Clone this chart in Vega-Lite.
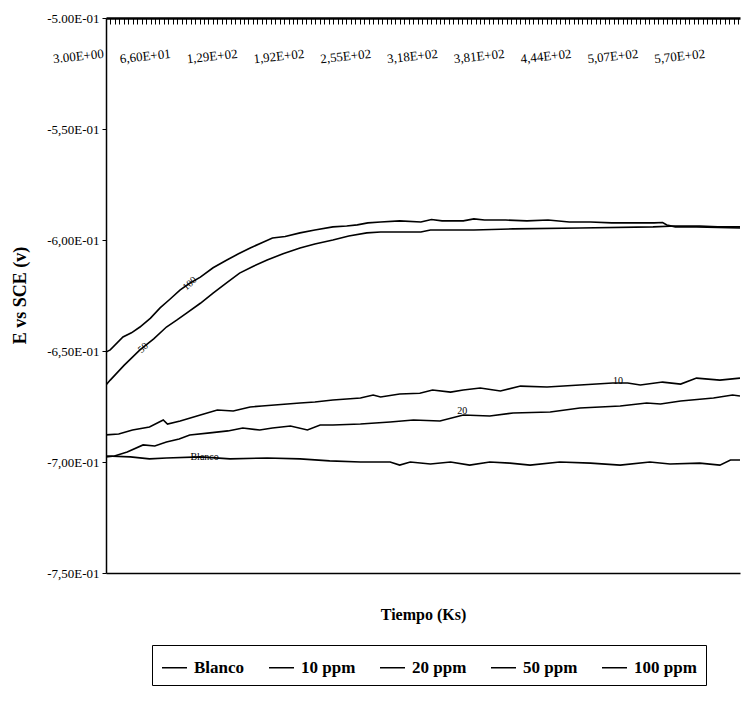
{
"$schema":"https://vega.github.io/schema/vega-lite/v6.json",
"width":634,"height":555,
"autosize":"none",
"padding":{"left":106,"top":18,"right":2,"bottom":130},
"config":{"font":"Liberation Serif","view":{"stroke":null},
"axis":{"grid":false,"domainColor":"black","tickColor":"black","labelColor":"black","titleColor":"black","labelFont":"Liberation Serif","titleFont":"Liberation Serif"},
"legend":{"labelFont":"Liberation Serif","labelColor":"black"}},
"resolve":{"scale":{"x":"independent"},"axis":{"x":"independent"}},
"layer":[
{"data":{"values":[
{"s":"100 ppm","t":3,"e":-0.6505},{"s":"100 ppm","t":7,"e":-0.6495},{"s":"100 ppm","t":19,"e":-0.6437},{"s":"100 ppm","t":27,"e":-0.6418},{"s":"100 ppm","t":35,"e":-0.6392},{"s":"100 ppm","t":45,"e":-0.6352},{"s":"100 ppm","t":54,"e":-0.6306},{"s":"100 ppm","t":63,"e":-0.6268},{"s":"100 ppm","t":73,"e":-0.6225},{"s":"100 ppm","t":82,"e":-0.6195},{"s":"100 ppm","t":92,"e":-0.6167},{"s":"100 ppm","t":104,"e":-0.6125},{"s":"100 ppm","t":117,"e":-0.609},{"s":"100 ppm","t":128,"e":-0.6062},{"s":"100 ppm","t":139,"e":-0.6036},{"s":"100 ppm","t":150,"e":-0.6012},{"s":"100 ppm","t":160,"e":-0.5991},{"s":"100 ppm","t":172,"e":-0.5984},{"s":"100 ppm","t":186,"e":-0.5968},{"s":"100 ppm","t":200,"e":-0.5955},{"s":"100 ppm","t":217,"e":-0.5941},{"s":"100 ppm","t":230,"e":-0.5937},{"s":"100 ppm","t":240,"e":-0.5932},{"s":"100 ppm","t":250,"e":-0.5923},{"s":"100 ppm","t":262,"e":-0.5919},{"s":"100 ppm","t":280,"e":-0.5914},{"s":"100 ppm","t":300,"e":-0.5919},{"s":"100 ppm","t":310,"e":-0.5908},{"s":"100 ppm","t":320,"e":-0.5914},{"s":"100 ppm","t":340,"e":-0.5914},{"s":"100 ppm","t":350,"e":-0.5905},{"s":"100 ppm","t":360,"e":-0.5910},{"s":"100 ppm","t":380,"e":-0.5910},{"s":"100 ppm","t":400,"e":-0.5914},{"s":"100 ppm","t":420,"e":-0.5910},{"s":"100 ppm","t":440,"e":-0.5919},{"s":"100 ppm","t":460,"e":-0.5919},{"s":"100 ppm","t":480,"e":-0.5923},{"s":"100 ppm","t":500,"e":-0.5923},{"s":"100 ppm","t":520,"e":-0.5923},{"s":"100 ppm","t":528,"e":-0.5921},{"s":"100 ppm","t":532,"e":-0.5932},{"s":"100 ppm","t":540,"e":-0.5941},{"s":"100 ppm","t":560,"e":-0.5941},{"s":"100 ppm","t":580,"e":-0.5943},{"s":"100 ppm","t":601,"e":-0.5946},
{"s":"50 ppm","t":3,"e":-0.6653},{"s":"50 ppm","t":7,"e":-0.6631},{"s":"50 ppm","t":20,"e":-0.6565},{"s":"50 ppm","t":35,"e":-0.6495},{"s":"50 ppm","t":48,"e":-0.6445},{"s":"50 ppm","t":60,"e":-0.6392},{"s":"50 ppm","t":70,"e":-0.636},{"s":"50 ppm","t":79,"e":-0.6329},{"s":"50 ppm","t":92,"e":-0.6285},{"s":"50 ppm","t":104,"e":-0.6239},{"s":"50 ppm","t":117,"e":-0.6192},{"s":"50 ppm","t":129,"e":-0.6149},{"s":"50 ppm","t":142,"e":-0.6118},{"s":"50 ppm","t":155,"e":-0.609},{"s":"50 ppm","t":170,"e":-0.6062},{"s":"50 ppm","t":186,"e":-0.6036},{"s":"50 ppm","t":200,"e":-0.6018},{"s":"50 ppm","t":217,"e":-0.6},{"s":"50 ppm","t":232,"e":-0.5982},{"s":"50 ppm","t":249,"e":-0.5968},{"s":"50 ppm","t":262,"e":-0.5964},{"s":"50 ppm","t":300,"e":-0.5964},{"s":"50 ppm","t":309,"e":-0.5955},{"s":"50 ppm","t":350,"e":-0.5955},{"s":"50 ppm","t":387,"e":-0.5950},{"s":"50 ppm","t":450,"e":-0.5946},{"s":"50 ppm","t":519,"e":-0.5941},{"s":"50 ppm","t":540,"e":-0.5937},{"s":"50 ppm","t":563,"e":-0.5937},{"s":"50 ppm","t":580,"e":-0.5941},{"s":"50 ppm","t":601,"e":-0.5941},
{"s":"10 ppm","t":3,"e":-0.6878},{"s":"10 ppm","t":15,"e":-0.6874},{"s":"10 ppm","t":28,"e":-0.6856},{"s":"10 ppm","t":44,"e":-0.6842},{"s":"10 ppm","t":57,"e":-0.6811},{"s":"10 ppm","t":61,"e":-0.6829},{"s":"10 ppm","t":73,"e":-0.6815},{"s":"10 ppm","t":92,"e":-0.6788},{"s":"10 ppm","t":108,"e":-0.6766},{"s":"10 ppm","t":123,"e":-0.677},{"s":"10 ppm","t":139,"e":-0.6752},{"s":"10 ppm","t":150,"e":-0.6748},{"s":"10 ppm","t":162,"e":-0.6743},{"s":"10 ppm","t":186,"e":-0.6734},{"s":"10 ppm","t":200,"e":-0.6730},{"s":"10 ppm","t":217,"e":-0.6721},{"s":"10 ppm","t":243,"e":-0.6712},{"s":"10 ppm","t":255,"e":-0.6698},{"s":"10 ppm","t":262,"e":-0.6707},{"s":"10 ppm","t":280,"e":-0.6694},{"s":"10 ppm","t":299,"e":-0.669},{"s":"10 ppm","t":311,"e":-0.6676},{"s":"10 ppm","t":328,"e":-0.6685},{"s":"10 ppm","t":340,"e":-0.6676},{"s":"10 ppm","t":356,"e":-0.6667},{"s":"10 ppm","t":375,"e":-0.668},{"s":"10 ppm","t":394,"e":-0.6658},{"s":"10 ppm","t":419,"e":-0.6662},{"s":"10 ppm","t":450,"e":-0.6653},{"s":"10 ppm","t":481,"e":-0.6644},{"s":"10 ppm","t":495,"e":-0.6644},{"s":"10 ppm","t":507,"e":-0.6653},{"s":"10 ppm","t":528,"e":-0.664},{"s":"10 ppm","t":545,"e":-0.6649},{"s":"10 ppm","t":560,"e":-0.6622},{"s":"10 ppm","t":582,"e":-0.6631},{"s":"10 ppm","t":601,"e":-0.6622},
{"s":"20 ppm","t":3,"e":-0.6977},{"s":"20 ppm","t":11,"e":-0.6973},{"s":"20 ppm","t":23,"e":-0.6955},{"s":"20 ppm","t":38,"e":-0.6923},{"s":"20 ppm","t":49,"e":-0.6928},{"s":"20 ppm","t":60,"e":-0.691},{"s":"20 ppm","t":72,"e":-0.6896},{"s":"20 ppm","t":82,"e":-0.6878},{"s":"20 ppm","t":101,"e":-0.6869},{"s":"20 ppm","t":118,"e":-0.6860},{"s":"20 ppm","t":132,"e":-0.6847},{"s":"20 ppm","t":148,"e":-0.6856},{"s":"20 ppm","t":160,"e":-0.6847},{"s":"20 ppm","t":177,"e":-0.6838},{"s":"20 ppm","t":193,"e":-0.6856},{"s":"20 ppm","t":205,"e":-0.6833},{"s":"20 ppm","t":217,"e":-0.6833},{"s":"20 ppm","t":243,"e":-0.6829},{"s":"20 ppm","t":271,"e":-0.682},{"s":"20 ppm","t":293,"e":-0.6811},{"s":"20 ppm","t":318,"e":-0.6815},{"s":"20 ppm","t":340,"e":-0.6788},{"s":"20 ppm","t":365,"e":-0.6793},{"s":"20 ppm","t":387,"e":-0.6779},{"s":"20 ppm","t":422,"e":-0.6775},{"s":"20 ppm","t":450,"e":-0.6757},{"s":"20 ppm","t":488,"e":-0.6748},{"s":"20 ppm","t":513,"e":-0.6734},{"s":"20 ppm","t":526,"e":-0.6739},{"s":"20 ppm","t":545,"e":-0.6725},{"s":"20 ppm","t":576,"e":-0.6712},{"s":"20 ppm","t":594,"e":-0.6698},{"s":"20 ppm","t":601,"e":-0.6703},
{"s":"Blanco","t":3,"e":-0.6973},{"s":"Blanco","t":26,"e":-0.6977},{"s":"Blanco","t":44,"e":-0.6986},{"s":"Blanco","t":60,"e":-0.6982},{"s":"Blanco","t":92,"e":-0.6977},{"s":"Blanco","t":120,"e":-0.6986},{"s":"Blanco","t":155,"e":-0.6982},{"s":"Blanco","t":186,"e":-0.6986},{"s":"Blanco","t":214,"e":-0.6995},{"s":"Blanco","t":243,"e":-0.7},{"s":"Blanco","t":271,"e":-0.7},{"s":"Blanco","t":280,"e":-0.7014},{"s":"Blanco","t":290,"e":-0.7},{"s":"Blanco","t":309,"e":-0.7009},{"s":"Blanco","t":328,"e":-0.7},{"s":"Blanco","t":346,"e":-0.7014},{"s":"Blanco","t":365,"e":-0.7},{"s":"Blanco","t":384,"e":-0.7005},{"s":"Blanco","t":403,"e":-0.7014},{"s":"Blanco","t":431,"e":-0.7},{"s":"Blanco","t":460,"e":-0.7005},{"s":"Blanco","t":488,"e":-0.7014},{"s":"Blanco","t":516,"e":-0.7},{"s":"Blanco","t":535,"e":-0.7009},{"s":"Blanco","t":563,"e":-0.7005},{"s":"Blanco","t":582,"e":-0.7014},{"s":"Blanco","t":592,"e":-0.6991},{"s":"Blanco","t":601,"e":-0.6991}
]},
"mark":{"type":"line","strokeWidth":1.6,"clip":true},
"encoding":{
"x":{"field":"t","type":"quantitative","scale":{"domain":[3,601],"nice":false,"zero":false},
"axis":{"orient":"top","offset":-6,"domain":false,"title":null,"values":[3,7.2,11.4,15.6,19.8,24,28.2,32.4,36.6,40.8,45,49.2,53.4,57.6,61.8,66,70.2,74.4,78.6,82.8,87,91.2,95.4,99.6,103.8,108,112.2,116.4,120.6,124.8,129,133.2,137.4,141.6,145.8,150,154.2,158.4,162.6,166.8,171,175.2,179.4,183.6,187.8,192,196.2,200.4,204.6,208.8,213,217.2,221.4,225.6,229.8,234,238.2,242.4,246.6,250.8,255,259.2,263.4,267.6,271.8,276,280.2,284.4,288.6,292.8,297,301.2,305.4,309.6,313.8,318,322.2,326.4,330.6,334.8,339,343.2,347.4,351.6,355.8,360,364.2,368.4,372.6,376.8,381,385.2,389.4,393.6,397.8,402,406.2,410.4,414.6,418.8,423,427.2,431.4,435.6,439.8,444,448.2,452.4,456.6,460.8,465,469.2,473.4,477.6,481.8,486,490.2,494.4,498.6,502.8,507,511.2,515.4,519.6,523.8,528,532.2,536.4,540.6,544.8,549,553.2,557.4,561.6,565.8,570,574.2,578.4,582.6,586.8,591,595.2,599.4],
"labelExpr":"(datum.value - 3) % 63 != 0 ? '' : (datum.value == 3 ? '3.00E+00' : replace(replace(format(datum.value, '.2e'), '.', ','), 'e+', 'E+0'))",
"labelOverlap":false,"labelBound":false,"labelFlush":false,"tickSize":6,"tickWidth":1,"labelFontSize":13,"labelAngle":-6,"labelPadding":-38,"labelOffset":-28,"labelBaseline":"middle","labelAlign":"center"}},
"y":{"field":"e","type":"quantitative","scale":{"domain":[-0.75,-0.5],"nice":false,"zero":false},
"axis":{"orient":"left","values":[-0.75,-0.7,-0.65,-0.6,-0.55,-0.5],"labelExpr":"datum.value > -0.51 ? '-5.00E-01' : '-' + replace(replace(format(-datum.value, '.2e'), '.', ','), 'e-', 'E-0')","tickSize":4,"labelPadding":3,"labelFontSize":13,"domainWidth":1.5,"title":"E vs SCE (v)","titleFontSize":18,"titleFontWeight":"bold","titleX":-86,"titleY":277,"titleAngle":-90,"titleBaseline":"middle","titleAlign":"center"}},
"color":{"field":"s","type":"nominal","scale":{"domain":["Blanco","10 ppm","20 ppm","50 ppm","100 ppm"],"range":["black","black","black","black","black"]},
"legend":{"title":null,"orient":"none","legendX":46,"legendY":627,"direction":"horizontal","strokeColor":"black","padding":9,"symbolType":"stroke","symbolSize":625,"symbolStrokeWidth":1.5,"labelFontSize":17,"labelFontWeight":"bold","columnPadding":21,"labelOffset":6}}
}},
{"data":{"values":[{"lab":"100","t":82,"e":-0.6196},{"lab":"50","t":38,"e":-0.6486}]},
"mark":{"type":"text","angle":318,"fontSize":10,"font":"Liberation Serif","color":"black"},
"encoding":{"text":{"field":"lab"},
"x":{"field":"t","type":"quantitative","scale":{"domain":[3,601],"nice":false,"zero":false},"axis":{"orient":"bottom","labels":false,"ticks":false,"domain":true,"domainWidth":1.5,"title":"Tiempo (Ks)","titleFontSize":16,"titleFontWeight":"bold","titlePadding":33}},
"y":{"field":"e","type":"quantitative"}}},
{"data":{"values":[{"lab":"10","t":486,"e":-0.6637},{"lab":"20","t":339,"e":-0.6772},{"lab":"Blanco","t":96,"e":-0.6976}]},
"mark":{"type":"text","fontSize":10,"font":"Liberation Serif","color":"black"},
"encoding":{"text":{"field":"lab"},
"x":{"field":"t","type":"quantitative","scale":{"domain":[3,601],"nice":false,"zero":false},"axis":{"orient":"top","labels":false,"ticks":false,"domain":true,"domainWidth":2.5,"title":null}},
"y":{"field":"e","type":"quantitative"}}}
]
}
